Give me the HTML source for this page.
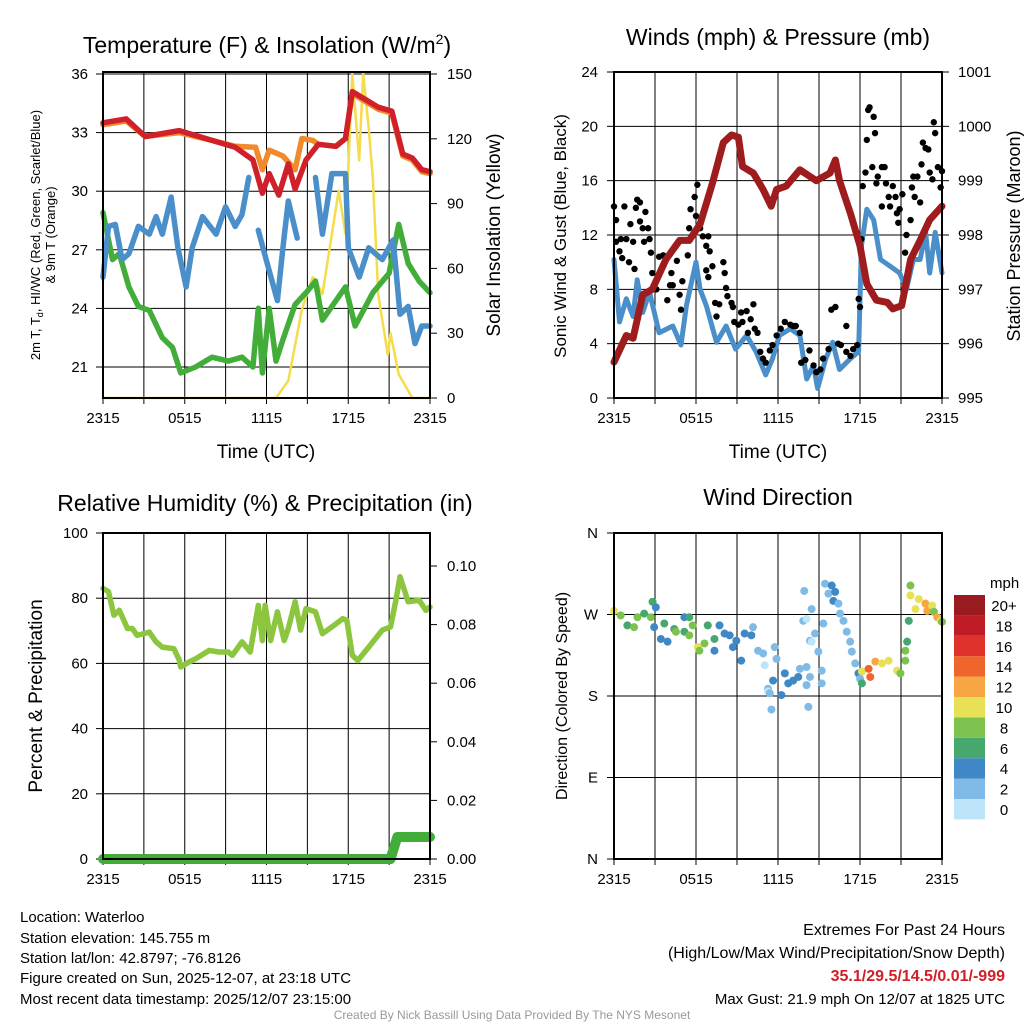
<!DOCTYPE html>
<html><head><meta charset="utf-8">
<style>
html,body{margin:0;padding:0;background:#fff;}
svg{display:block;font-family:"Liberation Sans",Arial,sans-serif;}
</style></head>
<body>
<svg id="s" width="1024" height="1024" viewBox="0 0 1024 1024" xmlns="http://www.w3.org/2000/svg">
<text x="267" y="53" font-size="23" text-anchor="middle">Temperature (F) &amp; Insolation (W/m<tspan dy="-9" font-size="14">2</tspan><tspan dy="9">)</tspan></text>
<text x="778" y="45" font-size="23" text-anchor="middle">Winds (mph) &amp; Pressure (mb)</text>
<text x="265" y="511" font-size="23" text-anchor="middle">Relative Humidity (%) &amp; Precipitation (in)</text>
<text x="778" y="505" font-size="23" text-anchor="middle">Wind Direction</text>
<text x="266" y="458" font-size="19" text-anchor="middle">Time (UTC)</text>
<text x="778" y="458" font-size="19" text-anchor="middle">Time (UTC)</text>
<text transform="translate(40,235) rotate(-90)" font-size="13" text-anchor="middle">2m T, T<tspan dy="3" font-size="9">d</tspan><tspan dy="-3">, HI/WC (Red, Green, Scarlet/Blue)</tspan></text>
<text transform="translate(55,235) rotate(-90)" font-size="13" text-anchor="middle">&amp; 9m T (Orange)</text>
<text transform="translate(500,235) rotate(-90)" font-size="19" text-anchor="middle">Solar Insolation (Yellow)</text>
<text transform="translate(566,236) rotate(-90)" font-size="17" text-anchor="middle">Sonic Wind &amp; Gust (Blue, Black)</text>
<text transform="translate(1020,236) rotate(-90)" font-size="18" text-anchor="middle">Station Pressure (Maroon)</text>
<text transform="translate(42,696) rotate(-90)" font-size="19" text-anchor="middle">Percent &amp; Precipitation</text>
<text transform="translate(567,696) rotate(-90)" font-size="16" text-anchor="middle">Direction (Colored By Speed)</text>
<g font-size="15">
<text x="20" y="922">Location: Waterloo</text>
<text x="20" y="943">Station elevation: 145.755 m</text>
<text x="20" y="963">Station lat/lon: 42.8797; -76.8126</text>
<text x="20" y="983">Figure created on Sun, 2025-12-07, at 23:18 UTC</text>
<text x="20" y="1004">Most recent data timestamp: 2025/12/07 23:15:00</text>
</g>
<g font-size="16" text-anchor="end">
<text x="1005" y="935">Extremes For Past 24 Hours</text>
<text x="1005" y="958">(High/Low/Max Wind/Precipitation/Snow Depth)</text>
<text x="1005" y="981" fill="#d0202a" font-weight="bold">35.1/29.5/14.5/0.01/-999</text>
<text x="1005" y="1004" font-size="15">Max Gust: 21.9 mph On 12/07 at 1825 UTC</text>
</g>
<text x="512" y="1019" font-size="12" fill="#999" text-anchor="middle">Created By Nick Bassill Using Data Provided By The NYS Mesonet</text>
<g id="p1"></g><g id="p2"></g><g id="p3"></g><g id="p4"></g>
</svg>
<script>
// ---- Temperature panel data (hours since 2315) ----
const tHours=[0,1.7,3.1,5.6,8,9.7,11,11.7,12.2,12.9,13.6,14.1,14.9,15.8,17.1,17.8,18.3,19,20.2,21.2,22,22.7,23.4,24];
const tempRed=[33.5,33.7,32.8,33.1,32.6,32.25,31.6,29.9,30.9,29.8,31.4,30.1,31.6,32.4,32.3,32.7,35.1,34.8,34.3,34.1,31.9,31.7,31.1,31.0];
const oHours=[0,1.7,3.1,5.6,8,9.7,11.2,11.7,12.2,13.2,14.1,14.6,15.4,15.8,17.1,17.8,18.3,19,20.2,21.2,22,22.7,23.4,24];
const temp9mOrange=[33.4,33.6,32.8,33.0,32.6,32.3,32.25,31.1,32.1,31.8,31.1,32.7,32.6,32.4,32.3,32.7,35.0,34.7,34.2,34.0,31.8,31.6,31.0,30.9];
const gHours=[0,0.7,1.2,1.9,2.6,3.4,4.35,5.1,5.7,6.8,8,9.2,10.2,11,11.4,11.7,12.2,12.7,13.2,14.1,14.9,15.6,16.1,17.8,18.5,19.8,21,21.7,22.4,23.2,24];
const dewGreen=[28.9,26.5,26.8,25.1,24.1,23.9,22.5,22.0,20.7,21.0,21.5,21.3,21.5,21.0,24.0,20.7,24.0,21.3,22.4,24.2,24.8,25.4,23.4,25.1,23.1,24.8,25.8,28.3,26.3,25.4,24.8];
const bHours=[0,0.4,0.9,1.4,1.9,2.6,3.4,3.9,4.35,5,5.5,6.1,6.55,7.3,8.3,9,9.7,10.2,10.7,null,11.4,11.9,12.8,13.2,13.6,14.25,null,15.6,16.1,16.8,17.8,18,18.8,19.5,20.5,21.3,21.8,22.4,22.9,23.4,24];
const heatBlue=[25.6,28.2,28.3,26.5,26.8,28.2,27.8,28.7,27.8,29.7,27.1,25.1,27.1,28.7,27.8,29.2,28.2,28.8,30.7,null,28.0,26.7,24.4,27.1,29.5,27.6,null,30.7,27.8,30.9,30.9,27.1,25.6,27.1,26.5,27.5,23.7,24.1,22.2,23.1,23.1];
const sHours=[0,12.7,13.6,14.6,15.4,15.8,16.1,16.6,17.3,17.8,18.3,18.8,19.1,19.5,19.8,20.2,20.9,21.1,21.7,22.7,24];
const insolation=[0,0,8,41,56,52,48,68,96,76,150,110,150,125,102,48,20,30,11,0,0];
// ---- Wind panel data ----
const wHours=[0,0.4,0.9,1.4,1.7,2.1,2.6,3.3,4.3,4.9,5.3,6,6.3,6.75,7.5,8.2,8.9,9.7,10.4,11.1,11.6,12.1,12.9,13.6,14.1,14.6,14.9,15.5,16,16.5,17.3,17.9,18.1,18.5,19,19.5,20.2,20.9,21.4,21.9,22.4,22.8,23.1,23.5,24];
const sonicWind=[10.2,5.6,7.3,6,8.7,6.3,7.8,4.8,5.3,3.9,6.8,10,8,6.8,4.1,5.3,3.6,4.6,3.4,1.7,2.9,4.6,5.1,4.6,1.4,2.4,0.7,2.9,4.1,2.1,2.9,3.4,11.2,13.9,13.1,10.2,9.7,9.2,8,10.2,10.2,12.2,9.2,12.2,9.2];
const pHours=[0,0.9,1.4,2.1,2.8,3.8,4.8,5.5,6.3,7.2,8,8.6,9.1,9.4,10.2,10.9,11.5,11.9,12.6,13.6,14.8,15.8,16.2,16.5,17.3,18,18.5,19.2,20,20.4,21.05,21.7,22.4,23.1,24];
const pressure=[995.66,996.15,996.1,996.9,997.0,997.55,997.9,997.9,998.2,998.95,999.7,999.84,999.8,999.26,999.14,998.84,998.53,998.84,998.9,999.2,999.0,999.14,999.38,999.0,998.4,997.8,997.1,996.8,996.76,996.64,996.7,997.55,997.9,998.28,998.53];
const gustHours=[0,0.15,0.15,0.4,0.5,0.6,0.76,0.9,1.1,1.2,1.4,1.5,1.6,1.7,1.9,1.9,2.1,2.2,2.3,2.5,2.6,2.7,2.8,3.1,3.3,3.6,3.8,3.9,4.1,4.2,4.3,4.6,4.8,4.9,5.0,5.4,5.5,5.6,5.9,6.0,6.1,6.3,6.5,6.75,6.9,7.0,6.75,6.9,7.2,7.4,7.5,7.7,8.0,8.1,8.2,8.3,8.6,8.7,8.8,9.1,9.3,9.4,9.7,9.8,10.0,10.2,10.3,10.5,10.7,10.9,11.1,11.4,11.6,11.9,12.2,12.5,12.9,13.1,13.3,13.6,13.7,14.0,14.3,14.6,14.8,15.1,15.3,15.7,15.9,16.2,16.4,16.6,17.0,17.0,17.3,17.5,17.8,17.9,18.0,18.1,18.2,18.4,18.5,18.6,18.7,18.9,19.0,19.1,19.2,19.3,19.6,19.6,19.8,19.9,20.1,20.2,20.4,20.6,20.7,20.8,20.9,21.1,21.3,21.4,21.7,21.8,21.9,22.0,22.2,22.4,22.5,22.6,22.8,23.0,23.1,23.3,23.4,23.5,23.7,23.9,24];
const gustValues=[14.1,13.1,11.5,10.8,11.7,10.3,14.1,11.7,10,12.8,11.5,9.5,14,14.6,14.4,13,12.5,11.5,13.7,12.5,11.7,10.7,9.2,8,10.4,10.5,10.2,7.2,8.3,9.2,8.3,10.1,7.6,6.5,8.6,10.5,12.5,13.9,14.8,13.4,15.7,12.5,11.9,11.2,11.9,10.8,9.4,8.9,9.7,7,6,6.9,10,9.2,8.1,7.5,7,6.7,5.6,5.4,6.3,5.6,6.4,4.8,5.8,6.9,5.1,4.8,3.4,2.9,2.6,3.5,3.9,4.6,5.1,5.6,5.4,5.3,5.3,4.8,2.6,2.8,3.5,2.4,1.9,2.1,2.9,3.6,6.5,6.7,4,3.9,5.3,3.4,3.1,3.6,3.9,7.3,6.7,11.7,15.6,16.6,19,21.2,21.4,17,20.7,19.5,15.8,16.3,17,14.1,17,15.8,14.8,14.1,15.6,14.8,13.6,12.9,13.9,15,10.7,12,13.1,15.5,16.3,14.8,16.3,14.4,17.2,18.8,18.4,18.3,16.6,16.1,20.3,19.5,17,15.5,16.7];
// ---- Humidity panel data ----
const rhHours=[0,0.4,0.8,1.2,1.8,2.15,2.5,3.4,3.9,4.35,5.2,5.6,5.7,6.3,6.8,7.8,8.5,9.2,9.5,10.2,10.8,11.4,11.7,11.9,12.3,12.8,13.3,13.6,14.1,14.5,14.9,15.6,16.1,16.8,17.6,17.9,18.3,18.7,19.5,20.5,21.1,21.5,21.8,22.4,23.2,23.7,24];
const rhValues=[83,82,74.8,76.3,70.7,70.7,68.6,69.6,66.6,65,64.5,61,58.9,60.4,61.4,64,63.5,63.5,62.5,66.6,63.5,77.8,67,77.8,67,75.8,67,70.7,78.9,70.2,76.8,75.8,69.1,71.2,73.7,73.2,62.5,60.9,65,70.2,71.2,79.4,86.6,78.9,79.4,76.3,77.3];
const prHours=[0,21.1,21.3,21.6,22.0,24.5];
const precipValues=[0,0,0.003,0.0075,0.0075,0.0075];
// ---- Wind direction panel data ----
const dHours=[0,0.49,0.98,1.47,1.72,2.21,2.70,2.82,3.06,2.94,3.68,3.43,3.92,4.41,4.53,5.15,5.51,5.76,5.15,5.51,6.13,6.25,6.62,6.86,7.35,7.35,7.72,8.09,8.46,8.70,8.95,9.31,9.56,10.17,10.05,10.54,10.91,11.03,11.76,11.89,11.64,11.27,11.27,11.40,12.25,11.52,12.50,12.75,13.11,13.48,13.60,14.09,14.34,14.09,13.85,13.92,14.09,14.46,14.34,14.46,14.71,14.95,15.20,15.20,14.22,15.32,15.44,15.93,15.69,16.18,16.05,16.42,16.54,16.79,17.03,17.28,17.40,17.65,17.89,18.14,18.01,18.63,18.75,18.14,19.12,19.61,20.10,20.71,20.96,21.32,21.32,21.45,21.57,21.69,21.69,22.06,22.30,22.79,22.92,23.28,23.41,23.65,23.90,24];
const dirValues=[274,269,258,256,267,271,267,284,278,256,260,243,240,254,251,267,267,258,251,247,234,230,238,258,243,230,258,249,247,234,241,219,249,256,247,230,227,214,234,221,197,188,185,183,181,165,205,194,197,201,210,192,201,212,263,296,265,276,241,240,249,229,208,194,168,260,304,302,293,295,285,282,271,263,251,240,229,216,205,207,199,210,201,194,218,216,219,208,205,219,230,240,263,302,291,276,287,282,274,280,273,267,263,262];
const dirSpeeds=[11,9,7,9,9,7,9,7,5,5,7,5,5,7,9,5,7,9,7,9,11,9,9,7,7,5,5,5,5,5,5,5,5,3,5,3,3,1,3,3,5,3,1,3,5,3,5,5,5,5,3,3,3,3,3,3,1,3,3,1,3,3,3,3,3,3,3,5,3,5,5,3,3,3,3,3,3,3,5,11,3,15,15,7,13,11,11,11,9,9,9,7,7,9,11,11,11,13,13,11,9,13,11,9];
const speedColors=["#bde4f8","#7fbbe6","#3f88c5","#47a86e","#7dc24e","#e7e158","#f7a644","#f0652b","#e0322d","#c01c26","#991a1f"];
const cbLabels=["0","2","4","6","8","10","12","14","16","18","20+"];

const NS="http://www.w3.org/2000/svg";
function mk(parent,tag,attrs){const e=document.createElementNS(NS,tag);for(const k in attrs)e.setAttribute(k,attrs[k]);parent.appendChild(e);return e;}
function lin(d0,d1,r0,r1){return v=>r0+(v-d0)*(r1-r0)/(d1-d0);}
function pathD(xs,ys,fx,fy){let d='',pen=false;xs.forEach((h,i)=>{if(h===null||ys[i]===null){pen=false;return;}
  d+=(pen?'L':'M')+fx(Math.min(24,h)).toFixed(1)+','+fy(ys[i]).toFixed(1);pen=true;});return d;}

function frame(g,X0,X1,Y0,Y1,hGrid,fy,leftTicks,leftFmt,lx,rightTicks,fyR,rightFmt,rx,xLabels){
  const fx=lin(0,24,X0,X1);
  for(let h=3;h<24;h+=3){const l=mk(g,'line',{x1:fx(h),x2:fx(h),y1:Y0,y2:Y1,stroke:'#000','stroke-width':1});
    
    }
  hGrid.forEach(v=>{const l=mk(g,'line',{x1:X0,x2:X1,y1:fy(v),y2:fy(v),stroke:'#000','stroke-width':1});
    
    });
  for(let h=0;h<=24;h+=3){const l=mk(g,'line',{x1:fx(h),x2:fx(h),y1:Y1,y2:Y1+6,stroke:'#000','stroke-width':1});
    
    }
  xLabels.forEach((t,i)=>{const e=mk(g,'text',{x:fx(i*6),y:Y1+25,'font-size':15,'text-anchor':'middle'});e.textContent=t;
    
    });
  leftTicks.forEach(v=>{const y=fy(v);mk(g,'line',{x1:X0-7,x2:X0,y1:y,y2:y,stroke:'#000'});
    const e=mk(g,'text',{x:lx,y:y+5,'font-size':15,'text-anchor':'end'});e.textContent=leftFmt(v);
    
    });
  if(rightTicks)rightTicks.forEach(v=>{const y=fyR(v);mk(g,'line',{x1:X1,x2:X1+7,y1:y,y2:y,stroke:'#000'});
    const e=mk(g,'text',{x:rx,y:y+5,'font-size':15});e.textContent=rightFmt(v);
    
    });
  return fx;
}
function border(g,X0,X1,Y0,Y1){const r=mk(g,'rect',{x:X0,y:Y0,width:X1-X0,height:Y1-Y0,fill:'none',stroke:'#000','stroke-width':2});
  
  }
function series(g,xs,ys,fx,fy,color,w,name){const p=mk(g,'path',{d:pathD(xs,ys,fx,fy),fill:'none',stroke:color,'stroke-width':w,'stroke-linejoin':'round','stroke-linecap':'round'});
  
  return p;}

// Panel 1
(function(){const g=document.getElementById('p1');const X0=103,X1=430,Y0=72,Y1=398;
  const fy=lin(21,36,367,74),fyR=lin(0,150,398,74);
  const fx=frame(g,X0,X1,Y0,Y1,[21,24,27,30,33,36],fy,[21,24,27,30,33,36],v=>v,88,[0,30,60,90,120,150],fyR,v=>v,447,['2315','0515','1115','1715','2315']);
  series(g,sHours,insolation,fx,fyR,'#f5dc4a',2.5,'insolation-line');
  series(g,gHours,dewGreen,fx,fy,'#43ad3a',5.5,'dewpoint-line');
  series(g,bHours,heatBlue,fx,fy,'#4a8fc9',5.5,'heat-index-line');
  series(g,oHours,temp9mOrange,fx,fy,'#f08a2a',5.5,'temp-9m-line');
  series(g,tHours,tempRed,fx,fy,'#d0202a',5.5,'temp-2m-line');
  border(g,X0,X1,Y0,Y1);})();

// Panel 2
(function(){const g=document.getElementById('p2');const X0=614,X1=942,Y0=72,Y1=398;
  const fy=lin(0,24,398,72),fyR=lin(995,1001,398,72);
  const fx=frame(g,X0,X1,Y0,Y1,[4,8,12,16,20],fy,[0,4,8,12,16,20,24],v=>v,598,[995,996,997,998,999,1000,1001],fyR,v=>v,958,['2315','0515','1115','1715','2315']);
  series(g,wHours,sonicWind,fx,fy,'#4a8fc9',5,'sonic-wind-line');
  gustHours.forEach((h,i)=>{const c=mk(g,'circle',{cx:fx(h),cy:fy(gustValues[i]),r:3.2,fill:'#000'});
    
    });
  series(g,pHours,pressure,fx,fyR,'#9e1b1e',7,'pressure-line');
  border(g,X0,X1,Y0,Y1);})();

// Panel 3
(function(){const g=document.getElementById('p3');const X0=103,X1=430,Y0=533,Y1=859;
  const fy=lin(0,100,859,533),fyR=lin(0,0.1,859,566);
  const fx=frame(g,X0,X1,Y0,Y1,[20,40,60,80],fy,[0,20,40,60,80,100],v=>v,88,[0,0.02,0.04,0.06,0.08,0.10],fyR,v=>v.toFixed(2),447,['2315','0515','1115','1715','2315']);
  series(g,rhHours,rhValues,fx,fy,'#8cc63f',5.5,'humidity-line');
  series(g,prHours,precipValues,fx,fyR,'#43ad3a',10,'precipitation-line');
  border(g,X0,X1,Y0,Y1);})();

// Panel 4
(function(){const g=document.getElementById('p4');const X0=614,X1=942,Y0=533,Y1=859;
  const fy=lin(0,360,859,533);
  const fx=frame(g,X0,X1,Y0,Y1,[90,180,270],fy,[0,90,180,270,360],v=>['N','E','S','W','N'][v/90],598,null,null,null,0,['2315','0515','1115','1715','2315']);
  dHours.forEach((h,i)=>{const idx=Math.min(10,Math.floor(dirSpeeds[i]/2));const c=mk(g,'circle',{cx:fx(Math.min(24,h)),cy:fy(dirValues[i]),r:4,fill:speedColors[idx]});
    
    });
  border(g,X0,X1,Y0,Y1);
  const t=mk(g,'text',{x:990,y:588,'font-size':15});t.textContent='mph';
  
  
  speedColors.forEach((c,i)=>{const y=799-i*20.4;const r=mk(g,'rect',{x:954,y:y,width:31,height:20.4,fill:c});
    
    
    const e=mk(g,'text',{x:1004,y:y+16,'font-size':15,'text-anchor':'middle'});e.textContent=cbLabels[i];
    
    });})();
</script>
</body></html>
